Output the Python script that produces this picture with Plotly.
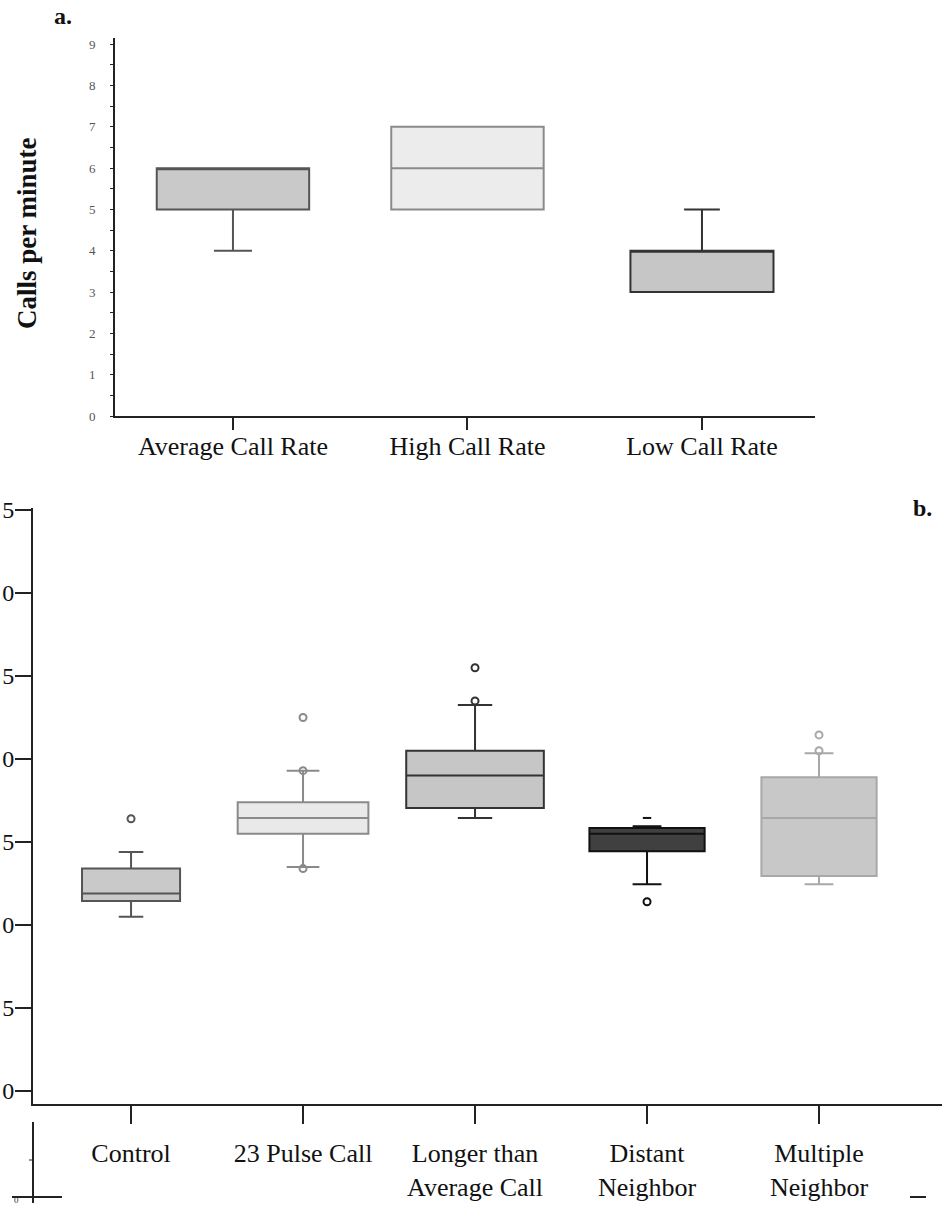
import plotly.graph_objects as go

W, H = 942, 1205
SERIF = "Liberation Serif"

# ---------------- Panel a data ----------------
cats_a = ["Average Call Rate", "High Call Rate", "Low Call Rate"]
a_q1 = [5, 5, 3]
a_med = [6, 6, 4]
a_q3 = [6, 7, 4]
a_low = [4, 5, 3]
a_high = [6, 7, 5]
a_ticks = [0, 1, 2, 3, 4, 5, 6, 7, 8, 9]
a_ticktext = ["0", "1", "2", "3", "4", "5", "6", "7", "8", "9"]

# ---------------- Panel b data ----------------
cats_b = ["Control", "23 Pulse Call", "Longer than<br>Average Call",
          "Distant<br>Neighbor", "Multiple<br>Neighbor"]
b_q1 = [11.45, 15.5, 17.05, 14.45, 12.95]
b_med = [11.9, 16.45, 19.0, 15.5, 16.45]
b_q3 = [13.4, 17.4, 20.5, 15.85, 18.9]
b_low = [10.5, 13.5, 16.45, 12.45, 12.45]
b_high = [14.4, 19.3, 23.25, 15.95, 20.35]
b_outliers = [[16.4], [22.5, 19.3, 13.4], [25.5, 23.5], [11.4], [21.45, 20.5]]
b_dash_outliers = [[], [], [], [16.45], []]
b_ticks = [0, 5, 10, 15, 20, 25, 30, 35]
b_ticktext = ["0", "5", "0", "5", "0", "5", "0", "5"]

# styles
a_fill = ["#c9c9c9", "#ececec", "#c6c6c6"]
a_line = ["#555555", "#8a8a8a", "#333333"]
a_width = [0.65, 0.65, 0.61]
b_fill = ["#c9c9c9", "#e9e9e9", "#c6c6c6", "#404040", "#c8c8c8"]
b_line = ["#555555", "#8a8a8a", "#333333", "#111111", "#a8a8a8"]
b_width = [0.57, 0.76, 0.80, 0.67, 0.67]

def px_x(p):
    return p / W

def px_y(p):
    return 1 - p / H

fig = go.Figure()

for i, c in enumerate(cats_a):
    fig.add_trace(go.Box(
        x=[c], q1=[a_q1[i]], median=[a_med[i]], q3=[a_q3[i]],
        lowerfence=[a_low[i]], upperfence=[a_high[i]],
        fillcolor=a_fill[i], line=dict(color=a_line[i], width=2),
        width=a_width[i], whiskerwidth=0.25, boxpoints=False,
        xaxis="x", yaxis="y", showlegend=False, hoverinfo="skip"))

for i, c in enumerate(cats_b):
    fig.add_trace(go.Box(
        x=[c], q1=[b_q1[i]], median=[b_med[i]], q3=[b_q3[i]],
        lowerfence=[b_low[i]], upperfence=[b_high[i]],
        fillcolor=b_fill[i], line=dict(color=b_line[i], width=2),
        width=b_width[i], whiskerwidth=0.25, boxpoints=False,
        xaxis="x2", yaxis="y2", showlegend=False, hoverinfo="skip"))
    if b_outliers[i]:
        fig.add_trace(go.Scatter(
            x=[c] * len(b_outliers[i]), y=b_outliers[i], mode="markers",
            marker=dict(symbol="circle-open", size=7,
                        line=dict(color=b_line[i], width=2), color=b_line[i]),
            xaxis="x2", yaxis="y2", showlegend=False, hoverinfo="skip"))
    if b_dash_outliers[i]:
        fig.add_trace(go.Scatter(
            x=[c] * len(b_dash_outliers[i]), y=b_dash_outliers[i], mode="markers",
            marker=dict(symbol="line-ew", size=6,
                        line=dict(color=b_line[i], width=2)),
            xaxis="x2", yaxis="y2", showlegend=False, hoverinfo="skip"))

axis_common = dict(showgrid=False, zeroline=False, showline=True,
                   linecolor="#222222", linewidth=2, ticks="outside",
                   tickcolor="#222222", automargin=False)

fig.update_layout(
    template="none",
    width=W, height=H, margin=dict(l=0, r=0, t=0, b=0, pad=0),
    paper_bgcolor="white", plot_bgcolor="white",
    boxmode="overlay",
    font=dict(family=SERIF, color="#111111"),
    xaxis=dict(axis_common, domain=[px_x(115), px_x(815)], anchor="y",
               type="category", categoryorder="array", categoryarray=cats_a,
               range=[-0.503, 2.482], ticklen=12, tickwidth=2,
               tickfont=dict(size=26, family=SERIF, color="#111111"),
               ticklabelstandoff=-6),
    yaxis=dict(axis_common, domain=[px_y(416), px_y(38)], anchor="x",
               range=[0, 9.15], tickvals=a_ticks, ticktext=a_ticktext,
               ticklen=3, tickwidth=1,
               minor=dict(dtick=0.5, ticklen=3, tickcolor="#222222", ticks="outside"),
               tickfont=dict(size=13, family=SERIF, color="#555555"),
               ticklabelstandoff=12),
    xaxis2=dict(axis_common, domain=[px_x(33), 1.0], anchor="y2",
                type="category", categoryorder="array", categoryarray=cats_b,
                range=[-0.57, 4.715], ticklen=18, tickwidth=2,
                tickfont=dict(size=26, family=SERIF, color="#111111"),
                ticklabelstandoff=7),
    yaxis2=dict(axis_common, domain=[px_y(1104), px_y(508)], anchor="x2",
                range=[-0.78, 35.12], tickvals=b_ticks, ticktext=b_ticktext,
                ticklen=16, tickwidth=2,
                tickfont=dict(size=24, family=SERIF, color="#111111"),
                ticklabelstandoff=-4),
)

annotations = [
    dict(text="<b>a.</b>", x=px_x(63), y=px_y(16), xref="paper", yref="paper",
         xanchor="center", yanchor="middle",
         showarrow=False, font=dict(size=24, family=SERIF, color="#111111")),
    dict(text="<b>b.</b>", x=px_x(922), y=px_y(508), xref="paper", yref="paper",
         xanchor="center", yanchor="middle",
         showarrow=False, font=dict(size=24, family=SERIF, color="#111111")),
    dict(text="<b>Calls per minute</b>", x=px_x(27), y=px_y(233), xref="paper",
         yref="paper", xanchor="center", yanchor="middle",
         showarrow=False, textangle=-90,
         font=dict(size=27, family=SERIF, color="#111111")),
    dict(text="0", x=px_x(16), y=px_y(1200), xref="paper", yref="paper",
         xanchor="center", yanchor="middle",
         showarrow=False, font=dict(size=9, family=SERIF, color="#333333")),
]
fig.update_layout(annotations=annotations)

# fragment of the panel below (partially visible at the bottom edge)
shapes = [
    dict(type="line", xref="paper", yref="paper", x0=px_x(33), x1=px_x(33),
         y0=px_y(1122), y1=px_y(1203), line=dict(color="#222222", width=2)),
    dict(type="line", xref="paper", yref="paper", x0=px_x(12), x1=px_x(62),
         y0=px_y(1197), y1=px_y(1197), line=dict(color="#222222", width=2)),
    dict(type="line", xref="paper", yref="paper", x0=px_x(29), x1=px_x(33),
         y0=px_y(1160), y1=px_y(1160), line=dict(color="#222222", width=1)),
    dict(type="line", xref="paper", yref="paper", x0=px_x(910), x1=px_x(926),
         y0=px_y(1197), y1=px_y(1197), line=dict(color="#222222", width=2)),
]
fig.update_layout(shapes=shapes)

fig.write_html("out.html")
